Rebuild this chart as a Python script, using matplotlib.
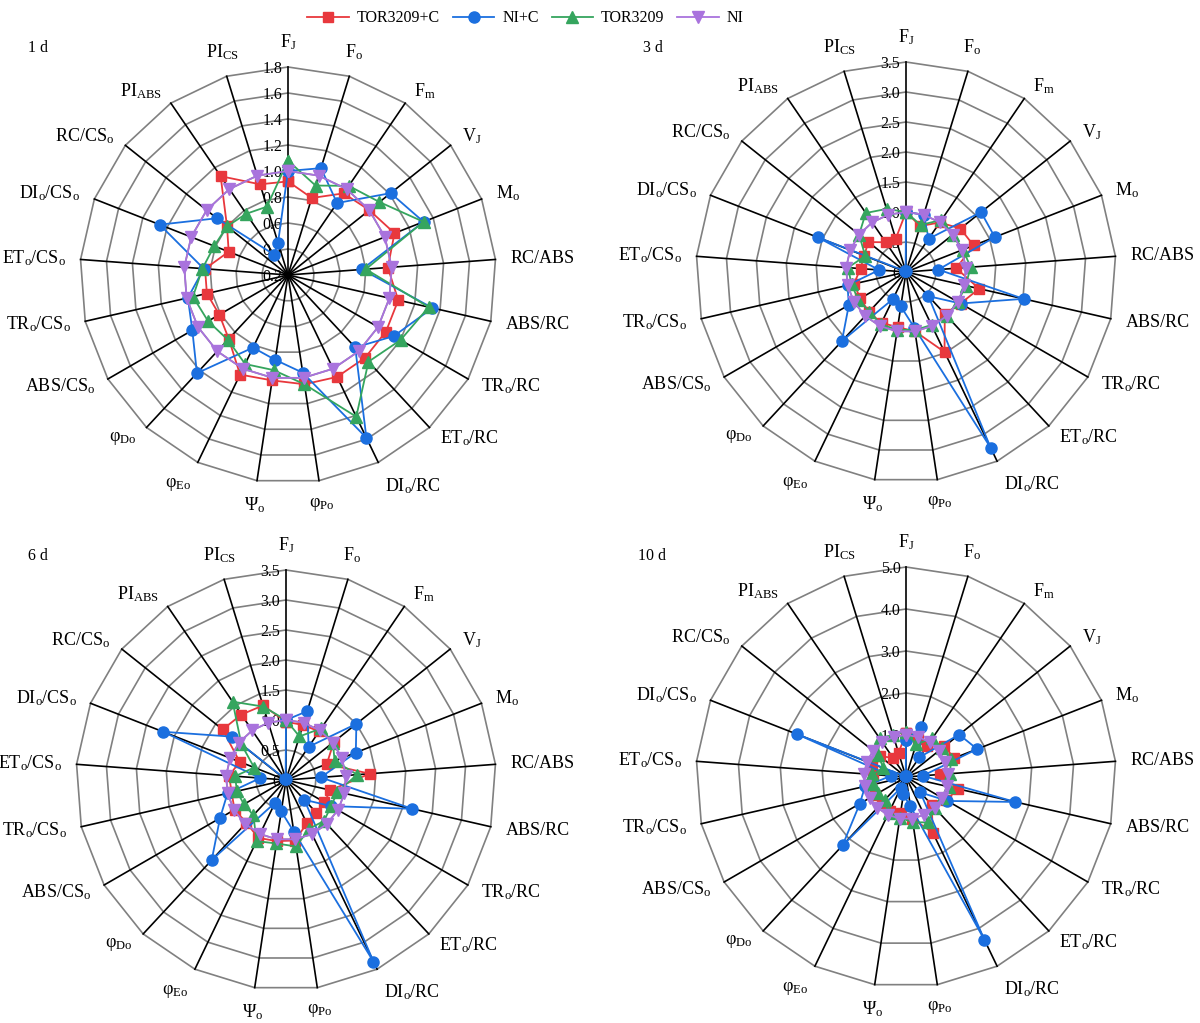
import numpy as np
import matplotlib
matplotlib.use('Agg')
import matplotlib.pyplot as plt
from matplotlib.lines import Line2D

plt.rcParams['font.family'] = ['Liberation Serif', 'DejaVu Serif']
plt.rcParams['mathtext.fontset'] = 'custom'
plt.rcParams['mathtext.rm'] = 'Liberation Serif'
plt.rcParams['mathtext.it'] = 'Liberation Serif:italic'
plt.rcParams['mathtext.bf'] = 'Liberation Serif:bold'

# ---------------- data ----------------
labels = [r'F$_{\rm J}$', r'F$_{\rm o}$', r'F$_{\rm m}$', r'V$_{\rm J}$', r'M$_{\rm o}$',
          'RC/ABS', 'ABS/RC', r'TR$_{\rm o}$/RC', r'ET$_{\rm o}$/RC', r'DI$_{\rm o}$/RC',
          r'φ$_{\rm Po}$', r'Ψ$_{\rm o}$', r'φ$_{\rm Eo}$', r'φ$_{\rm Do}$',
          r'ABS/CS$_{\rm o}$', r'TR$_{\rm o}$/CS$_{\rm o}$', r'ET$_{\rm o}$/CS$_{\rm o}$',
          r'DI$_{\rm o}$/CS$_{\rm o}$', r'RC/CS$_{\rm o}$', r'PI$_{\rm ABS}$', r'PI$_{\rm CS}$']

series_names = ['TOR3209+C', 'NI+C', 'TOR3209', 'NI']
panel_titles = ['1 d', '3 d', '6 d', '10 d']

# 1 d
d1_tor_c = [0.92, 0.82, 0.96, 1.00, 1.08, 0.97, 1.07, 1.07, 1.07, 1.07, 1.05,
            1.02, 1.05, 0.87, 0.81, 0.84, 0.84, 0.69, 0.80, 1.12, 0.93]
d1_ni_c = [1.00, 1.06, 0.87, 1.21, 1.32, 0.77, 1.34, 1.14, 0.96, 1.59, 0.96,
           0.86, 0.82, 1.23, 1.05, 0.99, 0.85, 1.26, 0.90, 0.39, 0.46]
d1_tor = [1.08, 0.92, 1.03, 1.10, 1.32, 0.80, 1.31, 1.20, 1.11, 1.41, 1.05,
          0.94, 0.96, 0.88, 0.91, 0.95, 0.86, 0.81, 0.80, 0.77, 0.75]
d1_ni = [1.00, 1.00, 1.00, 1.00, 1.00, 1.00, 1.00, 1.00, 1.00, 1.00, 1.00,
         1.00, 1.00, 1.00, 1.00, 1.00, 1.00, 1.00, 1.00, 1.00, 1.00]

# 3 d
d3_tor_c = [1.00, 0.80, 1.00, 1.16, 1.21, 0.84, 1.25, 1.05, 0.95, 1.48, 1.00,
            0.93, 0.94, 0.91, 0.88, 0.89, 0.76, 0.75, 0.80, 0.60, 0.58]
d3_ni_c = [1.00, 1.00, 0.67, 1.60, 1.59, 0.54, 2.01, 1.05, 0.55, 3.25, 0.94,
           0.58, 0.50, 1.57, 1.10, 1.00, 0.45, 1.58, 0.03, 0.02, 0.02]
d3_tor = [1.00, 0.82, 1.05, 1.00, 1.02, 1.08, 1.02, 1.00, 1.00, 0.98, 0.98,
          0.97, 0.97, 0.90, 0.92, 0.93, 0.97, 0.73, 1.00, 1.19, 1.10]
d3_ni = [1.00, 1.00, 1.00, 1.00, 1.00, 1.00, 1.00, 1.00, 1.00, 1.00, 1.00,
         1.00, 1.00, 1.00, 1.00, 1.00, 1.00, 1.00, 1.00, 1.00, 1.00]

# 6 d
d6_tor_c = [0.97, 0.96, 0.98, 1.02, 0.73, 1.40, 0.76, 0.74, 0.74, 0.80, 1.02,
            1.03, 1.07, 0.97, 0.99, 0.93, 0.95, 0.83, 1.35, 1.32, 1.30]
d6_ni_c = [1.00, 1.20, 0.67, 1.50, 1.25, 0.58, 2.16, 0.87, 0.45, 3.36, 0.87,
           0.53, 0.42, 1.82, 1.27, 1.00, 0.43, 2.20, 1.16, 0.02, 0.02]
d6_tor = [1.00, 0.76, 1.04, 1.00, 0.87, 1.19, 0.88, 0.87, 0.93, 0.90, 1.12,
          1.07, 1.13, 0.80, 0.81, 0.84, 0.85, 0.57, 0.95, 1.58, 1.28]
d6_ni = [1.00, 1.00, 1.00, 1.00, 1.00, 1.00, 1.00, 1.00, 1.00, 1.00, 1.00,
         1.00, 1.00, 1.00, 1.00, 1.00, 1.00, 1.00, 1.00, 1.00, 1.00]

# 10 d
d10_tor_c = [1.05, 0.95, 0.88, 1.17, 1.23, 0.80, 1.28, 1.10, 0.90, 1.47, 1.00,
             0.87, 0.90, 0.85, 0.85, 0.85, 0.78, 0.86, 0.80, 0.55, 0.60]
d10_ni_c = [0.88, 1.25, 0.57, 1.62, 1.82, 0.40, 2.67, 1.14, 0.50, 4.30, 0.71,
            0.42, 0.30, 2.22, 1.27, 1.00, 0.36, 2.79, 0.03, 0.02, 0.02]
d10_tor = [1.08, 0.81, 1.12, 1.10, 1.15, 1.05, 1.05, 1.00, 1.00, 1.20, 1.09,
           0.98, 0.95, 0.75, 0.78, 0.80, 0.80, 0.58, 0.85, 1.12, 1.05]
d10_ni = [1.00, 1.00, 1.00, 1.00, 1.00, 1.00, 1.00, 1.00, 1.00, 1.00, 1.00,
          1.00, 1.00, 1.00, 1.00, 1.00, 1.00, 1.00, 1.00, 1.00, 1.00]

ticks_1 = [0.2, 0.4, 0.6, 0.8, 1.0, 1.2, 1.4, 1.6, 1.8]
ticklabels_1 = ['0.2', '0.4', '0.6', '0.8', '1.0', '1.2', '1.4', '1.6', '1.8']
ticks_3 = [0, 0.5, 1.0, 1.5, 2.0, 2.5, 3.0, 3.5]
ticklabels_3 = ['0', '0.5', '1.0', '1.5', '2.0', '2.5', '3.0', '3.5']
ticks_10 = [0, 1.0, 2.0, 3.0, 4.0, 5.0]
ticklabels_10 = ['0', '1.0', '2.0', '3.0', '4.0', '5.0']

# ---------------- style ----------------
colors = ['#E8383D', '#1B6FDF', '#35A55E', '#A973DD']
markers = ['s', 'o', '^', 'v']
msizes = [7.2, 8.0, 8.6, 8.6]
GRID = '#808080'

W, H = 1200, 1023
DPI = 100
fig = plt.figure(figsize=(12, 10.23), dpi=DPI)

def rect(cx, cy, R):
    return [(cx - R) / W, (H - cy - R) / H, 2 * R / W, 2 * R / H]

panels = [
    (panel_titles[0], [d1_tor_c, d1_ni_c, d1_tor, d1_ni], ticks_1, ticklabels_1, rect(288, 275, 208), (28, 48)),
    (panel_titles[1], [d3_tor_c, d3_ni_c, d3_tor, d3_ni], ticks_3, ticklabels_3, rect(906, 272, 210), (643, 48)),
    (panel_titles[2], [d6_tor_c, d6_ni_c, d6_tor, d6_ni], ticks_3, ticklabels_3, rect(286, 780, 210), (28, 556)),
    (panel_titles[3], [d10_tor_c, d10_ni_c, d10_tor, d10_ni], ticks_10, ticklabels_10, rect(906, 777, 210), (638, 556)),
]

n = len(labels)
theta = np.arange(n) * 2 * np.pi / n
th_closed = np.append(theta, theta[0])
gap_px = 15.0

for title, series, ticks, tlabels, rc, tpos in panels:
    ax = fig.add_axes(rc, projection='polar')
    ax.set_theta_zero_location('N')
    ax.set_theta_direction(-1)
    rmin, rmax = ticks[0], ticks[-1]
    ax.set_ylim(rmin, rmax)
    ax.set_xticks([])
    ax.set_yticks([])
    ax.grid(False)
    ax.spines['polar'].set_visible(False)
    ax.patch.set_visible(False)

    for t in ticks[1:]:
        ax.plot(th_closed, [t] * (n + 1), color=GRID, lw=1.2, zorder=1, clip_on=False)
    for th in theta:
        ax.plot([th, th], [rmin, rmax], color='black', lw=1.2, zorder=2, clip_on=False)

    for t, tl in zip(ticks, tlabels):
        ax.annotate(tl, xy=(0, t), xytext=(-4, -1.5), textcoords='offset points',
                    ha='right', va='center', fontsize=11.5, zorder=2.5)

    for vals, c, m, ms in zip(series, colors, markers, msizes):
        v = np.append(vals, vals[0])
        ax.plot(th_closed, v, color=c, lw=1.3, marker=m, ms=ms, mec=c, mfc=c,
                zorder=3, clip_on=False)

    for i, lab in enumerate(labels):
        dx, dy = np.sin(theta[i]), np.cos(theta[i])
        if abs(dx) < 0.3:
            ha = 'center'
        elif dx > 0:
            ha = 'left'
        else:
            ha = 'right'
        if dy > 0.9:
            va = 'bottom'
        elif dy < -0.9:
            va = 'top'
        else:
            va = 'center'
        off = gap_px * 72 / DPI
        ax.annotate(lab, xy=(theta[i], rmax), xytext=(dx * off, dy * off),
                    textcoords='offset points', ha=ha, va=va, fontsize=13,
                    annotation_clip=False)

    fig.text(tpos[0] / W, 1 - tpos[1] / H, title, ha='left', va='center', fontsize=11.5)

# legend
handles = [Line2D([0], [0], color=c, lw=1.3, marker=m, ms=ms, mec=c, mfc=c)
           for c, m, ms in zip(colors, markers, msizes)]
fig.legend(handles, series_names, loc='upper center', bbox_to_anchor=(0.438, 1.004),
           ncol=4, frameon=False, fontsize=11.5, handlelength=2.6, handletextpad=0.5,
           columnspacing=0.8)

fig.savefig('out.png', dpi=DPI)
